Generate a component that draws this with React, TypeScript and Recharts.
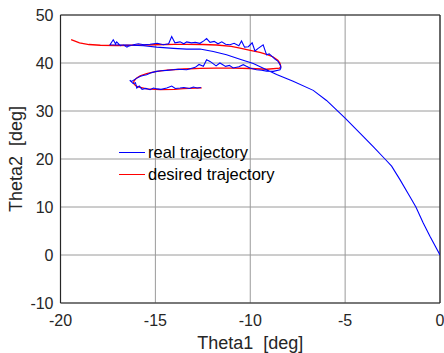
import React from "react";
import {
  LineChart,
  Line,
  XAxis,
  YAxis,
  CartesianGrid,
  ReferenceLine,
  Label,
} from "recharts";

// tick labels
const xTicks = [-20, -15, -10, -5, 0];
const yTicks = [-10, 0, 10, 20, 30, 40, 50];

// series names
const seriesNames = ["real trajectory", "desired trajectory"];

// real trajectory: [theta1, theta2] in degrees, in time order
const realTrajectory: [number, number][] = [
  [0, 0], [-0.53, 3.9], [-0.89, 6.7], [-1.27, 10], [-1.59, 12.2],
  [-2.11, 15.7], [-2.55, 18.5], [-2.9, 20], [-3.52, 22.6], [-4.05, 24.7],
  [-5, 28.5], [-5.98, 32.2], [-6.68, 34.3],
  [-7.74, 36.2], [-8.61, 37.6], [-9.14, 38.6], [-9.84, 39.9], [-10.54, 40.8],
  [-11.25, 41.7], [-11.95, 42.4], [-12.65, 42.9], [-13.35, 42.9], [-14.05, 43.05],
  [-14.93, 43.3], [-15.63, 43.6], [-16.5, 43.75], [-17.39, 43.8],
  // top noisy segment
  [-17.22, 44.85], [-17.1, 44.0], [-17.04, 44.4], [-16.85, 43.6], [-16.69, 43.8],
  [-16.5, 43.3], [-16.43, 43.5], [-16.16, 43.8], [-15.9, 44.0], [-15.6, 43.8],
  [-15.28, 43.9], [-14.9, 44.1], [-14.58, 43.8], [-14.3, 44.0], [-14.14, 45.5],
  [-13.97, 44.2], [-13.7, 44.4], [-13.5, 44.0], [-13.35, 44.4], [-13.1, 44.2],
  [-12.9, 44.3], [-12.65, 44.1], [-12.45, 44.6], [-12.3, 45.1], [-12.12, 44.3],
  [-11.9, 44.5], [-11.7, 44.0], [-11.5, 44.4], [-11.3, 43.9], [-11.07, 43.8],
  [-10.85, 44.1], [-10.6, 43.6], [-10.46, 44.6], [-10.3, 43.3], [-10.1, 43.4],
  [-9.9, 44.2], [-9.75, 42.5], [-9.6, 43.0], [-9.32, 43.8], [-9.14, 41.7],
  [-9.0, 41.9], [-8.85, 41.4], [-8.7, 40.8], [-8.55, 40.4], [-8.43, 39.65],
  [-8.38, 39.0], [-8.43, 38.6],
  // middle noisy segment (going left)
  [-8.79, 38.25], [-9.14, 38.3], [-9.4, 38.5], [-9.67, 38.6], [-10.02, 38.96],
  [-10.2, 39.3], [-10.37, 39.65], [-10.6, 39.2], [-10.9, 38.96], [-11.1, 39.5],
  [-11.3, 39.3], [-11.6, 40.0], [-11.8, 39.4], [-12.12, 40.33], [-12.3, 40.7],
  [-12.47, 39.3], [-12.7, 39.7], [-12.9, 39.1], [-13.35, 38.6], [-13.8, 38.7],
  [-14.05, 38.6], [-14.4, 38.46], [-14.7, 38.4], [-14.93, 38.25], [-15.2, 38.0],
  [-15.46, 37.56], [-15.65, 37.4], [-15.81, 37.2], [-16.0, 36.8], [-16.25, 36.17],
  [-16.35, 36.4], [-16.16, 35.7], [-16.05, 35.9], [-15.98, 34.8], [-15.85, 35.2],
  [-15.7, 34.5],
  // bottom segment
  [-15.5, 34.7], [-15.28, 34.44], [-15.1, 34.8], [-14.9, 34.6], [-14.7, 34.5],
  [-14.4, 34.8], [-14.14, 35.2], [-13.95, 34.7], [-13.7, 34.8], [-13.5, 34.9],
  [-13.2, 34.7], [-13.0, 35.0], [-12.8, 34.8], [-12.6, 34.9],
];

// desired trajectory: [theta1, theta2] in degrees, in time order
const desiredTrajectory: [number, number][] = [
  [-19.44, 44.86], [-19.0, 44.2], [-18.5, 43.85], [-17.9, 43.7], [-17, 43.65],
  [-16.2, 43.7], [-15, 43.8], [-14, 43.9], [-13.35, 43.9], [-12.5, 43.85],
  [-11.77, 43.75], [-11, 43.45], [-10.54, 43.1], [-10, 42.65], [-9.49, 42.2],
  [-9.1, 41.75], [-8.79, 41.25], [-8.55, 40.6], [-8.44, 40.0], [-8.39, 39.3],
  [-8.45, 38.95], [-9.14, 38.7], [-10, 38.85], [-10.9, 38.95], [-11.8, 38.95],
  [-12.65, 38.9], [-13.5, 38.75], [-14.4, 38.5], [-15, 38.2], [-15.46, 37.8],
  [-15.8, 37.35], [-15.98, 36.9], [-16.12, 36.3], [-16.16, 35.8], [-16.05, 35.3],
  [-15.9, 35.0], [-15.46, 34.6], [-14.75, 34.45], [-14, 34.5], [-13.53, 34.65],
  [-12.56, 34.8],
];

const toRows = (pts: [number, number][]) => pts.map(([x, y]) => ({ x, y }));
const realData = toRows(realTrajectory);
const desiredData = toRows(desiredTrajectory);

const FONT = "Arial, 'Liberation Sans', sans-serif";
const AXIS = "#262626";
const GRID = "#9a9a9a";
const colors = ["#0000ff", "#ff0000"];

const LegendBox = () => (
  <div
    style={{
      position: "absolute",
      left: 119,
      top: 141,
      fontFamily: FONT,
      fontSize: 16.5,
      color: "#000",
    }}
  >
    {seriesNames.map((n, i) => (
      <div key={n} style={{ display: "flex", alignItems: "center", height: 22 }}>
        <div style={{ width: 26, height: 0, borderTop: `1.3px solid ${colors[i]}`, marginRight: 3 }} />
        <span>{n}</span>
      </div>
    ))}
  </div>
);

export default function App() {
  return (
    <div style={{ position: "absolute", left: 0, top: 0, width: 444, height: 353, background: "#fff" }}>
      <LineChart
        width={444}
        height={353}
        margin={{ top: 15, right: 4, left: 0, bottom: 0 }}
        style={{ fontFamily: FONT }}
      >
        <CartesianGrid stroke={GRID} strokeWidth={1} />
        <XAxis
          type="number"
          dataKey="x"
          domain={[-20, 0]}
          ticks={xTicks}
          allowDataOverflow
          height={50}
          tickLine={false}
          tickSize={0}
          tickMargin={12}
          axisLine={{ stroke: AXIS, strokeWidth: 1.2 }}
          tick={{ fill: AXIS, fontSize: 16 }}
        >
          <Label value={"Theta1\u00a0\u00a0[deg]"} position="insideBottom" offset={4} style={{ fill: AXIS, fontSize: 18 }} />
        </XAxis>
        <YAxis
          type="number"
          dataKey="y"
          domain={[-10, 50]}
          ticks={yTicks}
          allowDataOverflow
          width={60.5}
          tickLine={false}
          tickSize={0}
          tickMargin={7}
          axisLine={{ stroke: AXIS, strokeWidth: 1.2 }}
          tick={{ fill: AXIS, fontSize: 16 }}
        >
          <Label value={"Theta2\u00a0\u00a0[deg]"} angle={-90} position="insideLeft" offset={16} style={{ fill: AXIS, fontSize: 18, textAnchor: "middle" }} />
        </YAxis>
        <ReferenceLine y={50} stroke={AXIS} strokeWidth={1.2} />
        <ReferenceLine x={0} stroke={AXIS} strokeWidth={1.2} />
        <Line
          data={desiredData}
          dataKey="y"
          name={seriesNames[1]}
          type="linear"
          stroke={colors[1]}
          strokeWidth={1.3}
          dot={false}
          isAnimationActive={false}
        />
        <Line
          data={realData}
          dataKey="y"
          name={seriesNames[0]}
          type="linear"
          stroke={colors[0]}
          strokeWidth={1.1}
          dot={false}
          isAnimationActive={false}
        />
      </LineChart>
      <LegendBox />
    </div>
  );
}
